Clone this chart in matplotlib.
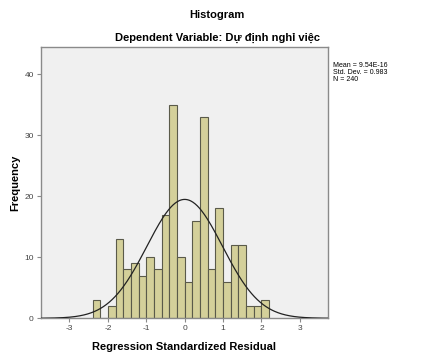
import numpy as np
import matplotlib.pyplot as plt

plt.rcParams['font.family'] = ['Liberation Sans', 'DejaVu Sans']
plt.rcParams['axes.unicode_minus'] = False

# histogram bins (width 0.2) and counts
bin_left = [-2.4, -2.2, -2.0, -1.8, -1.6, -1.4, -1.2, -1.0, -0.8, -0.6, -0.4,
            -0.2, 0.0, 0.2, 0.4, 0.6, 0.8, 1.0, 1.2, 1.4, 1.6, 1.8, 2.0]
counts = [3, 0, 2, 13, 8, 9, 7, 10, 8, 17, 35,
          10, 6, 16, 33, 8, 18, 6, 12, 12, 2, 2, 3]
bin_width = 0.2

mean = 9.54e-16
sd = 0.983
n = 240

fig = plt.figure(figsize=(4.39, 3.62), dpi=100)
ax = fig.add_axes([0.0927, 0.1207, 0.6543, 0.7486])
ax.set_facecolor('#f0f0f0')

ax.bar(bin_left, counts, width=bin_width, align='edge',
       color='#d4d09a', edgecolor='#5a5a4a', linewidth=0.8, zorder=2)

xs = np.linspace(-3.75, 3.75, 400)
pdf = n * bin_width * np.exp(-0.5 * ((xs - mean) / sd) ** 2) / (sd * np.sqrt(2 * np.pi))
ax.plot(xs, pdf, color='#222222', linewidth=0.9, zorder=3)

ax.set_xlim(-3.75, 3.73)
ax.set_ylim(0, 44.4)
ax.set_xticks([-3, -2, -1, 0, 1, 2, 3])
ax.set_yticks([0, 10, 20, 30, 40])

for s in ax.spines.values():
    s.set_color('#8a8a8a')
    s.set_linewidth(1.0)
ax.tick_params(axis='both', labelsize=6, colors='#8a8a8a', labelcolor='#444444',
               length=3, width=0.8, pad=2)

ax.set_xlabel('Regression Standardized Residual', fontsize=8, fontweight='bold', labelpad=7)
ax.set_ylabel('Frequency', fontsize=8, fontweight='bold', labelpad=3)

fig.text(0.495, 0.958, 'Histogram', ha='center', va='center', fontsize=8, fontweight='bold')
fig.text(0.495, 0.895, 'Dependent Variable: Dự định nghỉ việc', ha='center', va='center',
         fontsize=8, fontweight='bold')

fig.text(0.758, 0.83, 'Mean = 9.54E-16\nStd. Dev. = 0.983\nN = 240',
         ha='left', va='top', fontsize=5, linespacing=1.05)

fig.savefig('out.png', dpi=100)
